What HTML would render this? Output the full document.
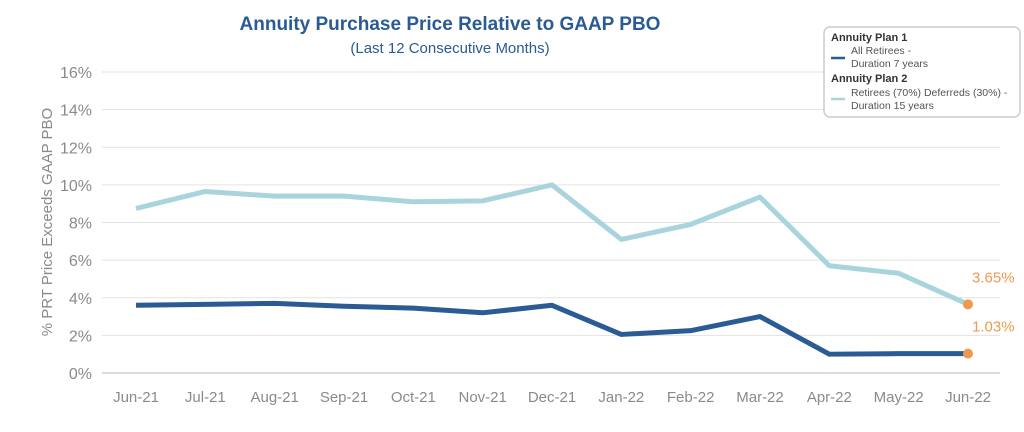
<!DOCTYPE html>
<html><head><meta charset="utf-8"><style>
body{margin:0;background:#fff;font-family:"Liberation Sans",sans-serif}
svg{display:block}
</style></head><body>
<svg id="c" width="1024" height="432">
<text x="450" y="30" text-anchor="middle" font-size="19" font-weight="bold" fill="#2a5b94">Annuity Purchase Price Relative to GAAP PBO</text>
<text x="450" y="53" text-anchor="middle" font-size="15" fill="#2a5b94">(Last 12 Consecutive Months)</text>
<text transform="translate(52,222) rotate(-90)" text-anchor="middle" font-size="15" fill="#8a8a8a">% PRT Price Exceeds GAAP PBO</text>
<g id="grid"></g><g id="series"></g>
<g>
<rect x="824" y="27" width="196" height="90" rx="6" fill="#fff" stroke="#ccc" stroke-width="1.5"/>
<text x="831" y="41" font-size="11" font-weight="bold" fill="#333">Annuity Plan 1</text>
<line x1="831" x2="845" y1="58" y2="58" stroke="#2a5b94" stroke-width="2.5"/>
<text x="851" y="54" font-size="10.5" fill="#555">All Retirees -</text>
<text x="851" y="67" font-size="10.5" fill="#555">Duration 7 years</text>
<text x="831" y="82" font-size="11" font-weight="bold" fill="#333">Annuity Plan 2</text>
<line x1="831" x2="845" y1="99" y2="99" stroke="#a9d4de" stroke-width="2.5"/>
<text x="851" y="96" font-size="10.5" fill="#555">Retirees (70%) Deferreds (30%) -</text>
<text x="851" y="109" font-size="10.5" fill="#555">Duration 15 years</text>
</g>
</svg>
<script>
const categories=["Jun-21","Jul-21","Aug-21","Sep-21","Oct-21","Nov-21","Dec-21","Jan-22","Feb-22","Mar-22","Apr-22","May-22","Jun-22"];
const plan1=[3.6,3.65,3.7,3.55,3.45,3.2,3.6,2.05,2.25,3.0,1.0,1.03,1.03];
const plan2=[8.75,9.65,9.4,9.4,9.1,9.15,10.0,7.1,7.9,9.35,5.7,5.3,3.65];
const yTicks=[0,2,4,6,8,10,12,14,16];
const NS="http://www.w3.org/2000/svg";
const x=i=>136+i*(968-136)/(categories.length-1);
const y=v=>373-v*(373-72)/16;
function mk(t,a,p){const e=document.createElementNS(NS,t);for(const k in a)e.setAttribute(k,a[k]);p.appendChild(e);return e;}
const g=document.getElementById('grid'),s=document.getElementById('series');
yTicks.forEach(v=>{
 const l=mk('line',{x1:102,x2:1000,y1:y(v),y2:y(v),stroke:v===0?'#bbb':'#e3e3e3'},g);
 
 
 const t=mk('text',{x:92,y:y(v)+6,'text-anchor':'end','font-size':16,fill:'#8a8a8a'},g);t.textContent=v+'%';
 
 
});
categories.forEach((c,i)=>{
 const t=mk('text',{x:x(i),y:402,'text-anchor':'middle','font-size':15,fill:'#8a8a8a'},g);t.textContent=c;
 
 
});
function line(d,col,name){
 const p=mk('polyline',{points:d.map((v,i)=>x(i)+','+y(v)).join(' '),fill:'none',stroke:col,'stroke-width':5,'stroke-linejoin':'round'},s);
 
 
 const n=d.length-1;
 const c=mk('circle',{cx:x(n),cy:y(d[n]),r:5,fill:'#ee9a4d'},s);
 
 
 const t=mk('text',{x:x(n)+4,y:y(d[n])-22,'font-size':15,fill:'#ee9a4d'},s);t.textContent=d[n].toFixed(2)+'%';
 
 
}
line(plan2,'#a9d4de','plan2-line');
line(plan1,'#2a5b94','plan1-line');
</script>
</body></html>
